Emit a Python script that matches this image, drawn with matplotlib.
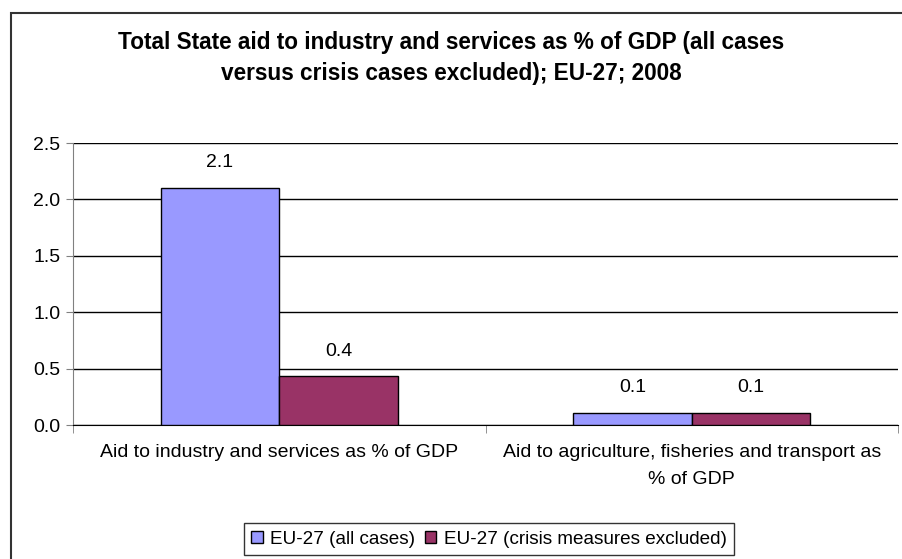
import matplotlib
matplotlib.use("Agg")
import matplotlib.pyplot as plt
from matplotlib.patches import Rectangle, Patch
import numpy as np

categories = ["Aid to industry and services as % of GDP",
              "Aid to agriculture, fisheries and transport as\n% of GDP"]
series_names = ["EU-27 (all cases)", "EU-27 (crisis measures excluded)"]
all_cases = [2.10, 0.11]
crisis_excluded = [0.43, 0.11]
colors = ["#9999FF", "#993366"]
yticks = [0.0, 0.5, 1.0, 1.5, 2.0, 2.5]

plt.rcParams['font.family'] = ['Liberation Sans', 'DejaVu Sans']

W, H = 903, 559
FS = 14
fig = plt.figure(figsize=(W / 100, H / 100), dpi=100)
fig.patch.set_facecolor("white")

# outer chart border (only left/top visible in reference)
border = Rectangle((11 / W, -0.1), 1.2, 1 - 13 / H + 0.1, transform=fig.transFigure,
                   fill=False, edgecolor="#333333", linewidth=1.5, clip_on=False)
fig.add_artist(border)

ax = fig.add_axes([73 / W, 1 - 425 / H, (898 - 73) / W, (425 - 143) / H])
x = np.arange(len(categories))
w = 0.287
b1 = ax.bar(x - w / 2, all_cases, w, color=colors[0], edgecolor="black", linewidth=1, zorder=3)
b2 = ax.bar(x + w / 2, crisis_excluded, w, color=colors[1], edgecolor="black", linewidth=1, zorder=3)

for bars, vals in ((b1, all_cases), (b2, crisis_excluded)):
    for r, v in zip(bars, vals):
        ax.annotate(f"{v:.1f}", (r.get_x() + r.get_width() / 2, v), xytext=(0, 12),
                    textcoords="offset points", ha="center", va="bottom", fontsize=FS)

ax.set_xlim(-0.5, len(categories) - 0.5)
ax.set_ylim(0, 2.5)
ax.set_yticks(yticks)
ax.set_yticklabels([f"{t:.1f}" for t in yticks], fontsize=FS)
ax.yaxis.grid(True, color="black", linewidth=1)
ax.set_axisbelow(True)
for s in ("top", "right"):
    ax.spines[s].set_visible(False)
ax.spines["left"].set_color("#808080")
ax.spines["bottom"].set_color("black")
ax.tick_params(axis="y", length=5, color="#808080", pad=4)

ax.set_xticks(x)
ax.set_xticklabels(categories, fontsize=FS, linespacing=1.75)
ax.tick_params(axis="x", length=0, pad=14)
ax.set_xticks([-0.5, 0.5, 1.5], minor=True)
ax.tick_params(axis="x", which="minor", length=6, color="#808080")

fig.text(0.5, 1 - 58 / H,
         "Total State aid to industry and services as % of GDP (all cases\nversus crisis cases excluded); EU-27; 2008",
         ha="center", va="center", fontsize=16.3, fontweight="bold", linespacing=1.4)

handles = [Patch(facecolor=colors[0], edgecolor="black"),
           Patch(facecolor=colors[1], edgecolor="black")]
leg = fig.legend(handles, series_names, loc="center", bbox_to_anchor=(489 / W, 1 - 539 / H),
                 ncol=2, fontsize=13.6, frameon=True, fancybox=False, edgecolor="black",
                 handlelength=0.6, handleheight=0.6, handletextpad=0.4, columnspacing=0.5,
                 borderpad=0.4)
leg.get_frame().set_linewidth(1)

fig.savefig("out.png", dpi=100)
